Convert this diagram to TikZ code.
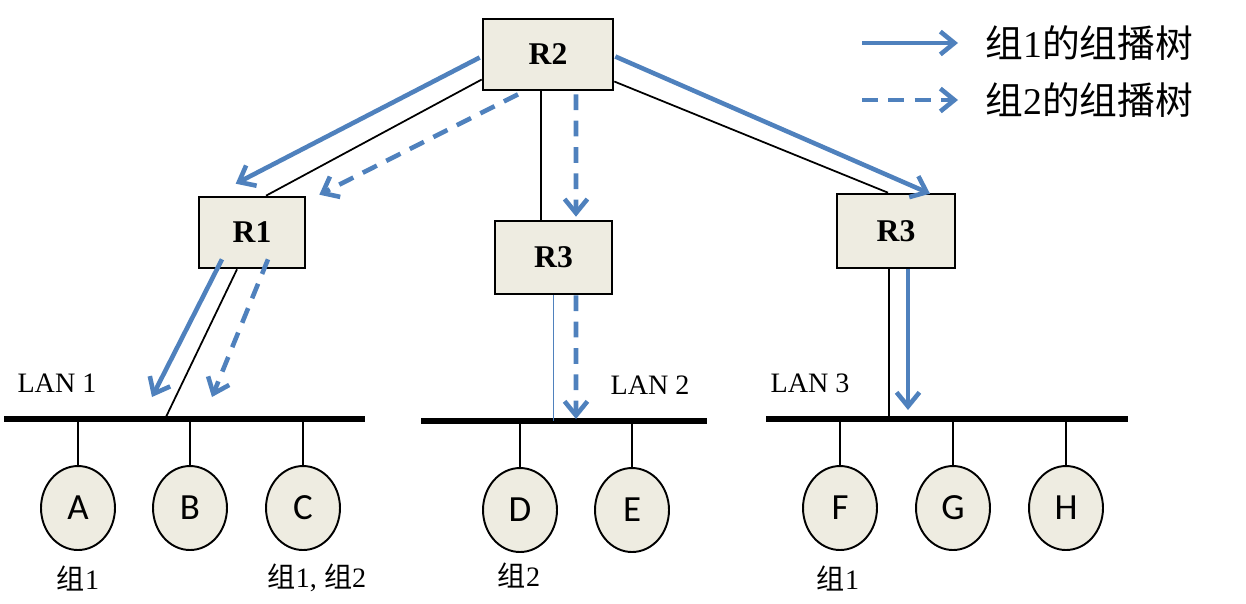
\documentclass[tikz,border=0pt]{standalone}
\usepackage{fontspec}
\setmainfont{Liberation Serif}
\newfontfamily\cjk{Noto Sans CJK SC}
\newfontfamily\hostfont{Carlito}
\usetikzlibrary{arrows.meta,calc,shapes.geometric}
\definecolor{boxfill}{HTML}{EEECE1}
\definecolor{treeblue}{HTML}{4F81BD}
\begin{document}
\begin{tikzpicture}[x=0.02cm,y=-0.02cm,
  router/.style={draw=black,line width=1.5pt,fill=boxfill,inner sep=0pt,
    font=\fontsize{18}{21}\selectfont\bfseries},
  host/.style={draw=black,line width=1.1pt,fill=boxfill,ellipse,
    minimum width=1.48cm,minimum height=1.68cm,inner sep=0pt,
    font=\hostfont\fontsize{21}{24}\selectfont},
  bus/.style={line width=2.9pt},
  link/.style={line width=1pt},
  lanlab/.style={font=\fontsize{16}{19}\selectfont,inner sep=0pt},
  grplab/.style={font=\fontsize{16}{19}\selectfont,inner sep=0pt},
  leglab/.style={font=\cjk\fontsize{21.5}{25}\selectfont,inner sep=0pt,anchor=west},
  tree1/.style={treeblue,line width=2.6pt,-{Straight Barb[length=8pt,width=13pt]}},
  tree2/.style={tree1,dash pattern=on 9pt off 6pt}
]
\useasboundingbox (0,0) rectangle (1246,603);

% routers
\node[router,minimum width=2.6cm,minimum height=1.42cm] (R2) at (548,54.5) {R2};
\node[router,minimum width=2.12cm,minimum height=1.42cm] (R1) at (252,232.5) {R1};
\node[router,minimum width=2.34cm,minimum height=1.46cm] (R3m) at (553.5,257.5) {R3};
\node[router,minimum width=2.36cm,minimum height=1.48cm] (R3r) at (896,231) {R3};

% LAN buses
\coordinate (lan1w) at (4,419);   \coordinate (lan1e) at (365,419);
\coordinate (lan2w) at (421,421); \coordinate (lan2e) at (707,421);
\coordinate (lan3w) at (766,419); \coordinate (lan3e) at (1128,419);
\draw[bus] (lan1w) -- (lan1e);
\draw[bus] (lan2w) -- (lan2e);
\draw[bus] (lan3w) -- (lan3e);

% hosts
\node[host] (A) at (78,508) {A};
\node[host] (B) at (190,508) {B};
\node[host] (C) at (303,508) {C};
\node[host] (D) at (520,510) {D};
\node[host] (E) at (632,510) {E};
\node[host] (F) at (840,508) {F};
\node[host] (G) at (953,508) {G};
\node[host] (H) at (1066,508) {H};
\foreach \h in {A,B,C} \draw[link] (\h.north) -- (\h.north |- lan1w);
\foreach \h in {D,E} \draw[link] (\h.north) -- (\h.north |- lan2w);
\foreach \h in {F,G,H} \draw[link] (\h.north) -- (\h.north |- lan3w);

% labels
\node[lanlab] (lab1) at (57,383) {LAN 1};
\node[lanlab] (lab2) at (650,385) {LAN 2};
\node[lanlab] (lab3) at (810,383) {LAN 3};
\node[grplab] (gA) at (78,578) {{\cjk 组}1};
\node[grplab] (gC) at (317,578) {{\cjk 组}1, {\cjk 组}2};
\node[grplab] (gD) at (519,575) {{\cjk 组}2};
\node[grplab] (gF) at (838,578) {{\cjk 组}1};

% physical links
\coordinate (r1att) at (165,419);
\draw[link] ($(R2.west)+(0,25)$) -- ($(R1.north)+(14,0)$);
\draw[link] ($(R2.south)+(-7,0)$) -- ($(R3m.north)+(-12.5,0)$);
\draw[link] ($(R2.east)+(0,27)$) -- ($(R3r.north)+(-8,0)$);
\draw[link] ($(R1.south)+(-15,0)$) -- (r1att);
\draw[treeblue,line width=1pt] (R3m.south) -- (R3m.south |- lan2w);
\coordinate (r3rb) at ($(R3r.south)+(-7,0)$);
\draw[link] (r3rb) -- (r3rb |- lan3w);

% multicast trees
\coordinate (t1) at (152,397);
\coordinate (t2) at (212,397);
\coordinate (t3) at (576,419);
\coordinate (t4) at (908,410);
\draw[tree1] ($(R2.west)+(-2,3)$) -- ($(R1.north west)+(38,-12)$);
\draw[tree2] ($(R2.south)+(-30,3)$) -- ($(R1.north east)+(13,-1)$);
\draw[tree2] ($(R2.south)+(28,3)$) -- ($(R3m.north)+(22.5,-3)$);
\draw[tree1] ($(R2.east)+(1,2)$) -- ($(R3r.north)+(34,1)$);
\draw[tree1] ($(R1.south)+(-30,-10)$) -- (t1);
\draw[tree2] ($(R1.south)+(16,-10)$) -- (t2);
\draw[tree2] ($(R3m.south)+(22.5,0)$) -- (t3);
\draw[tree1] ($(R3r.south)+(12,0)$) -- (t4);

% legend
\coordinate (lg1a) at (862,43); \coordinate (lg1b) at (958,43);
\coordinate (lg2a) at (862,100); \coordinate (lg2b) at (958,100);
\draw[tree1] (lg1a) -- (lg1b);
\draw[tree2] (lg2a) -- (lg2b);
\node[leglab] (leg1) at (985,43) {组{\rmfamily 1}的组播树};
\node[leglab] (leg2) at (985,100) {组{\rmfamily 2}的组播树};
\end{tikzpicture}
\end{document}
